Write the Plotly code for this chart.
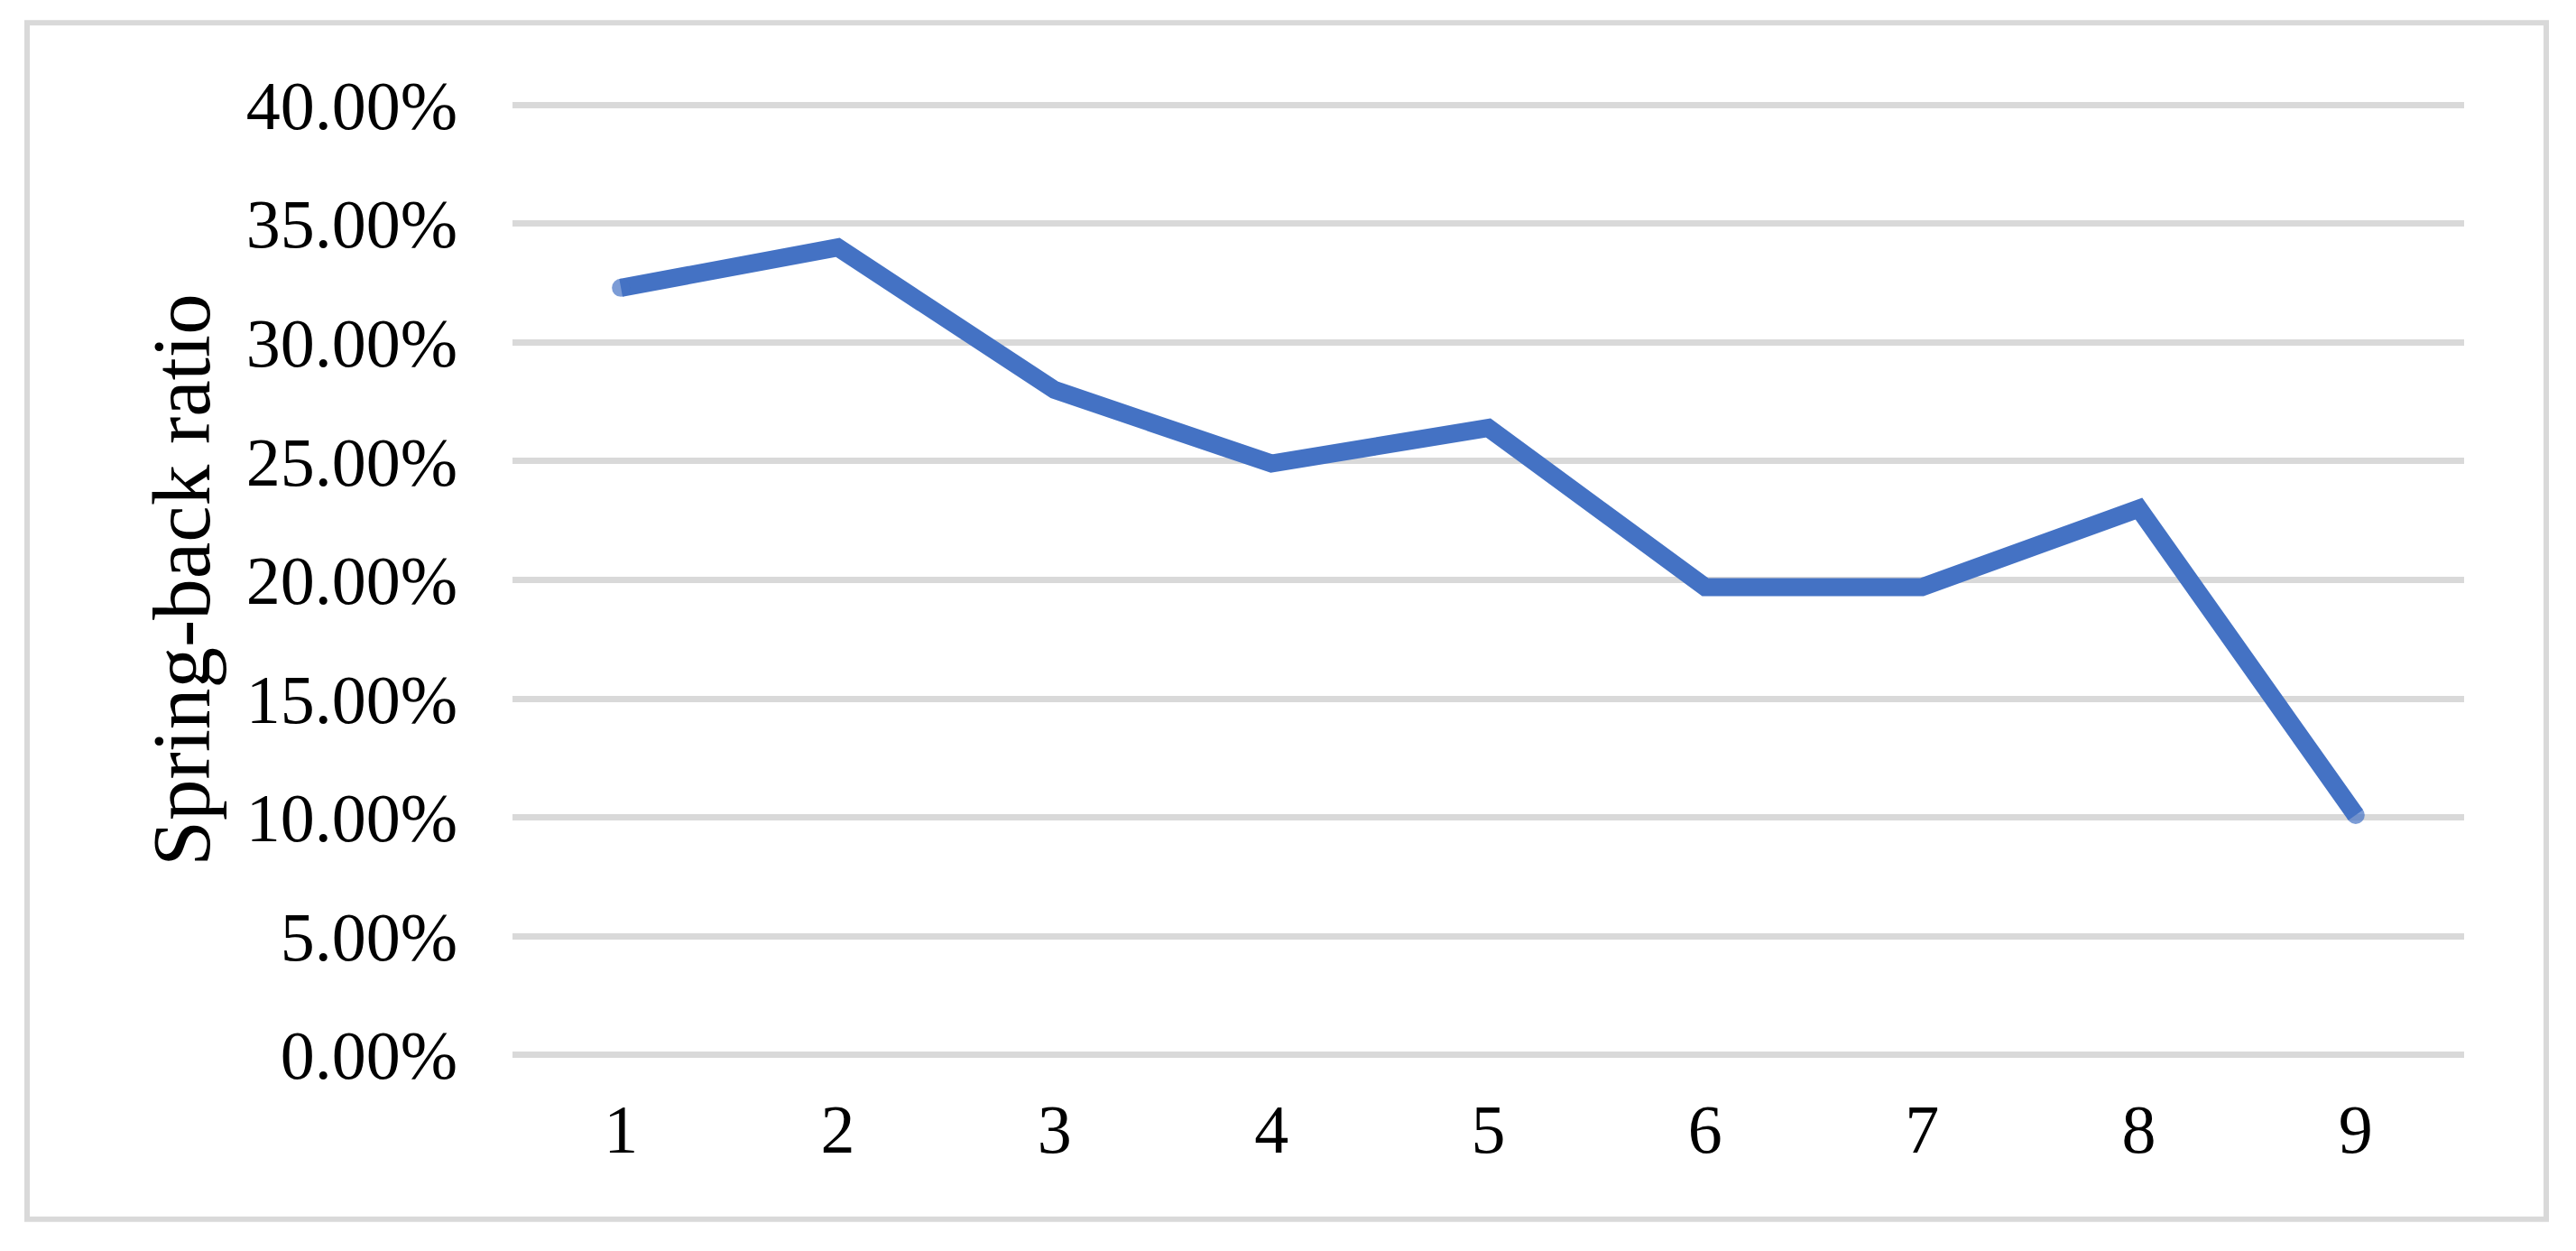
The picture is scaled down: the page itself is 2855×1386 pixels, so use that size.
import plotly.graph_objects as go

W, H = 2855, 1386
OFF = 8  # default page body margin shifts the figure

steps = ["1", "2", "3", "4", "5", "6", "7", "8", "9"]
springback = [0.323, 0.340, 0.280, 0.249, 0.264, 0.197, 0.197, 0.230, 0.101]

# plot area in page pixels (0% .. 40%)
L, R, T, B = 568 - OFF, 2731 - OFF, 116 - OFF, 1169 - OFF
EPS = 0.002  # small pad so the 0% and 40% gridlines are drawn
pad = EPS / 0.4 * (B - T)
T2, B2 = T - pad, B + pad


def px(x):
    return (x - L) / (R - L)


def py(y):
    return (B2 - y) / (B2 - T2)


# round caps at both ends of the line
cap_sizes = [20 if i in (0, len(steps) - 1) else 0 for i in range(len(steps))]

fig = go.Figure()
fig.add_trace(go.Scatter(
    x=steps, y=springback, mode="lines+markers",
    line=dict(color="#4472C4", width=20),
    marker=dict(color="#4472C4", size=cap_sizes, line=dict(width=0)),
    showlegend=False,
))

# outer chart border (Excel style)
fig.add_shape(type="rect", xref="paper", yref="paper",
              x0=px(30 - OFF), x1=px(2822 - OFF), y0=py(1351 - OFF), y1=py(25 - OFF),
              line=dict(color="#d9d9d9", width=6), layer="below")

fig.update_layout(
    width=W, height=H,
    margin=dict(l=L, r=W - R, t=T2, b=H - B2),
    paper_bgcolor="white", plot_bgcolor="white",
    font=dict(family="Liberation Serif, Times New Roman, serif", color="black", size=76),
)
fig.update_xaxes(type="category", range=[-0.5, 8.5], showgrid=False, showline=False,
                 ticks="", zeroline=False, tickfont=dict(size=76), ticklabelstandoff=26)
fig.update_yaxes(range=[-EPS, 0.4 + EPS], tickvals=[i * 0.05 for i in range(9)],
                 tickformat=".2%", showgrid=True,
                 gridcolor="#d9d9d9", gridwidth=7, zeroline=False, showline=False,
                 ticks="", tickfont=dict(size=76), ticklabelstandoff=60,
                 title=dict(text="Spring-back ratio", font=dict(size=91), standoff=9))

fig.write_html("out.html")
